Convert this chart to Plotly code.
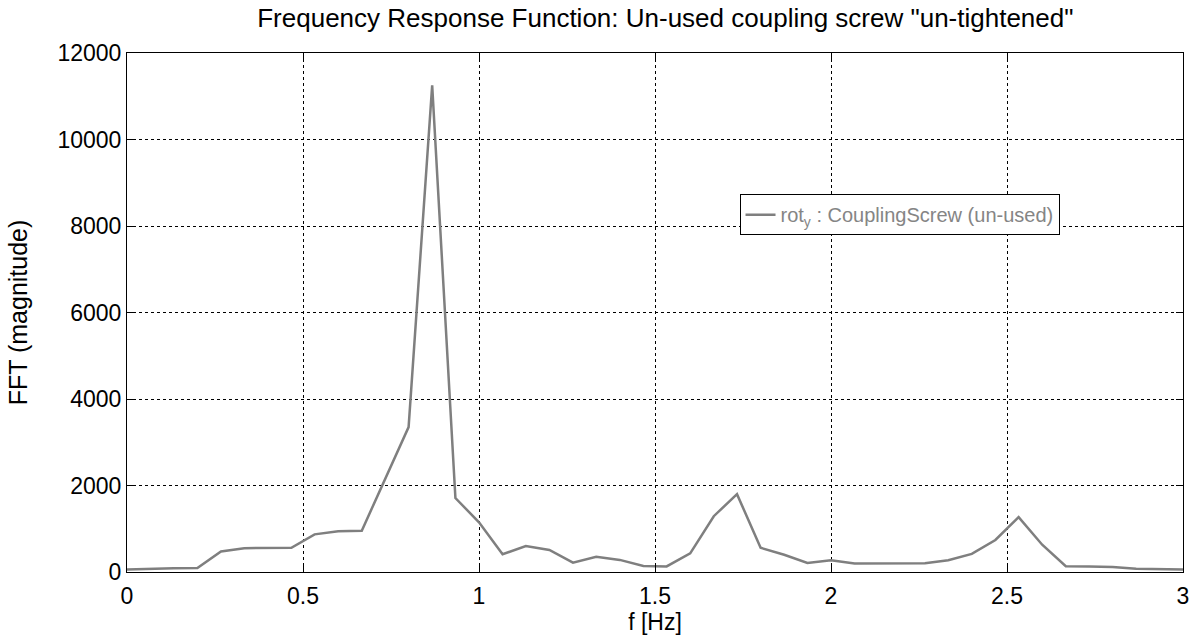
import plotly.graph_objects as go

freq_hz = [0.000, 0.067, 0.133, 0.200, 0.267, 0.333, 0.400, 0.467, 0.533, 0.600,
           0.667, 0.733, 0.800, 0.867, 0.933, 1.000, 1.067, 1.133, 1.200, 1.267,
           1.333, 1.400, 1.467, 1.533, 1.600, 1.667, 1.733, 1.800, 1.867, 1.933,
           2.000, 2.067, 2.133, 2.200, 2.267, 2.333, 2.400, 2.467, 2.533, 2.600,
           2.667, 2.733, 2.800, 2.867, 2.933, 3.000]
fft_mag = [60, 80, 85, 90, 475, 550, 555, 560, 870, 940,
           955, 2150, 3350, 11250, 1710, 1150, 410, 600, 510, 215,
           350, 280, 140, 130, 430, 1290, 1800, 560, 400, 210,
           270, 195, 195, 195, 200, 270, 420, 740, 1270, 630,
           135, 130, 115, 75, 65, 60]

x_ticks = [0, 0.5, 1, 1.5, 2, 2.5, 3]
x_tick_labels = ["0", "0.5", "1", "1.5", "2", "2.5", "3"]
y_ticks = [0, 2000, 4000, 6000, 8000, 10000, 12000]
y_tick_labels = ["0", "2000", "4000", "6000", "8000", "10000", "12000"]

FONT = "Liberation Sans, Arial, sans-serif"

fig = go.Figure()
fig.add_trace(go.Scatter(
    x=freq_hz, y=fft_mag, mode="lines",
    line=dict(color="#7f7f7f", width=2.5),
    name="rot<sub>y</sub> : CouplingScrew (un-used)",
))

axis_common = dict(
    showline=True, linecolor="black", linewidth=1, mirror="ticks",
    ticks="inside", ticklen=7, tickcolor="black",
    showgrid=True, gridcolor="black", gridwidth=1, griddash="3px,3px",
    zeroline=False, tickfont=dict(family=FONT, size=23, color="black"),
)

fig.update_layout(
    width=1201, height=642,
    margin=dict(l=127, r=12, t=53, b=67),
    paper_bgcolor="white", plot_bgcolor="white",
    font=dict(family=FONT, color="black"),
    title=dict(
        text='Frequency Response Function: Un-used coupling screw "un-tightened"',
        x=0.554, xanchor="center", y=0.972, yanchor="middle",
        font=dict(family=FONT, size=26, color="black"),
    ),
    xaxis=dict(range=[0, 3], tickvals=x_ticks, ticktext=x_tick_labels,
               ticklabelstandoff=3,
               title=dict(text="f [Hz]", font=dict(family=FONT, size=23), standoff=5),
               **axis_common),
    yaxis=dict(range=[0, 12000], tickvals=y_ticks, ticktext=y_tick_labels,
               title=dict(text="FFT (magnitude)", font=dict(family=FONT, size=25), standoff=22),
               **axis_common),
    showlegend=True,
    legend=dict(
        x=(743 - 127) / 1062, y=(575 - 195) / 522, xanchor="left", yanchor="top",
        bgcolor="white", bordercolor="black", borderwidth=1,
        font=dict(family=FONT, size=20, color="#858585"),
        itemwidth=30,
    ),
)

fig.write_html("out.html")
